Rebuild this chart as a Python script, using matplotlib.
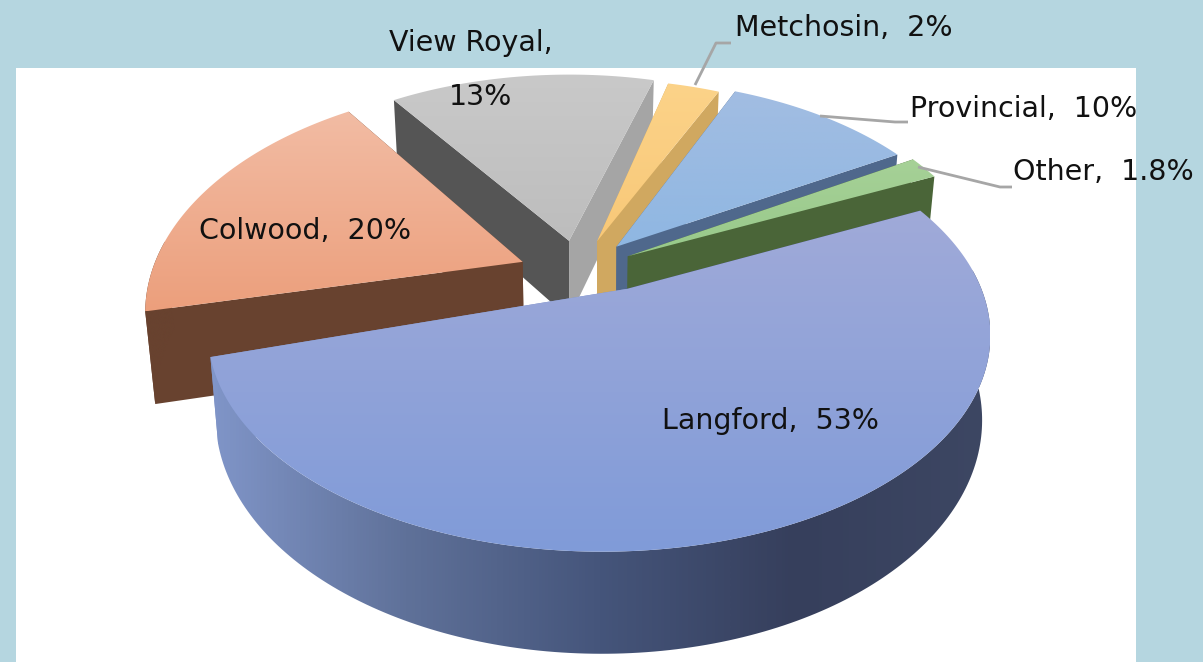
#!/usr/bin/env python
import numpy as np
import matplotlib
matplotlib.use('Agg')
import matplotlib.pyplot as plt
from matplotlib.patches import Polygon, Rectangle
from matplotlib.colors import LinearSegmentedColormap

names = ["Langford", "Colwood", "View Royal", "Metchosin", "Provincial", "Other"]
values = [53, 20, 13, 2, 10, 1.8]
explode = [0.10, 0.17, 0.05, 0.05, 0.08, 0.13]
start_angle = 22.0

# per slice corrections, the original has a camera this simple projection lacks
nudge_start = [2, 2, 6, 4, 2, 1]
nudge_end = [7, 6.5, 2, 1, 2, 1.5]
radius = [1.01, 1, 0.97, 0.94, 0.98, 0.99]
tilt_scale = [0.955, 1.05, 1, 1, 1, 1.07]
h_scale = [1.02, 1.15, 1, 1, 1, 1]
shift_x = [-5, -9, -18, 1, 7, -5]
shift_y = [8, 13, -11, -11, -3, 7]
apex_x = [28, 0, 0, 0, 0, 0]
apex_y = [0, 0, 0, 0, 0, 0]

top_colors = [("#a0aad9", "#809bd8"), ("#f2bca4", "#ec9f7c"), ("#c9c9c9", "#bdbdbd"),
              ("#fcd389", "#f8c878"), ("#a2bde2", "#8fb7e2"), ("#a6d197", "#98c98a")]
cut_first = ["#3c4763", "#68422f", "#555555", "#d0a860", "#4f688c", "#4a6538"]
cut_last = ["#7d92c6", "#68422f", "#a5a5a5", "#d0a860", "#4f688c", "#4a6538"]
rim_colors = [["#8095c8", "#5f7199", "#45557b", "#363f5c", "#3d4763"], ["#68422f"] * 2, ["#999999"] * 2,
              ["#d0a860"] * 2, ["#4f688c"] * 2, ["#4a6538"] * 2]
draw_order = [2, 3, 4, 5, 1, 0]

CX, CY = 590.0, 262.0
R, TILT, K = 372.0, 0.56, 0.20
H, TAPER = 78.0, 0.02

fig = plt.figure(figsize=(12.03, 6.62), dpi=100, facecolor="#b5d6e0")
ax = fig.add_axes([0, 0, 1, 1])
ax.axis("off")


def project(x, y, z=0.0, tilt=1.0):
    d = 1 + K * y
    sx = CX + R * x / d * (1 - TAPER * z)
    sy = CY - R * TILT * tilt * y / d + H * z / d
    return np.column_stack([sx, sy])


def gradient(pts, colors, horizontal=False, z=2):
    x0, y0 = pts.min(axis=0)
    x1, y1 = pts.max(axis=0)
    cmap = LinearSegmentedColormap.from_list("g", colors)
    g = np.linspace(0, 1, 256)
    g = g.reshape(1, -1) if horizontal else g.reshape(-1, 1)
    im = ax.imshow(g, cmap=cmap, extent=[x0, x1, y1, y0], aspect="auto", zorder=z, interpolation="bilinear", origin="upper" if not horizontal else "lower")
    im.set_clip_path(Polygon(pts, closed=True, transform=ax.transData))


ax.add_patch(Rectangle((16, 68), 1120, 600, fc="white", ec="none", zorder=1))

fractions = np.array(values) / sum(values)
ends = start_angle - np.cumsum(fractions) * 360
starts = np.r_[start_angle, ends[:-1]]
z = 2
for i in draw_order:
    a0, a1 = np.radians(starts[i] + nudge_start[i]), np.radians(ends[i] + nudge_end[i])
    mid = (a0 + a1) / 2
    ox, oy = explode[i] * np.cos(mid), explode[i] * np.sin(mid)
    t = np.linspace(a0, a1, 200)
    ax_, ay_ = ox + radius[i] * np.cos(t), oy + radius[i] * np.sin(t)
    off = np.array([shift_x[i], shift_y[i]])
    aoff = off + np.array([apex_x[i], apex_y[i]])
    zb = h_scale[i]
    apex_t = project(ox, oy, 0, tilt_scale[i])[0] + aoff
    apex_b = project(ox, oy, zb, tilt_scale[i])[0] + aoff
    top_arc = project(ax_, ay_, 0, tilt_scale[i]) + off
    bot_arc = project(ax_, ay_, zb, tilt_scale[i]) + off
    # two cut faces
    for arc_t, arc_b, col in ((top_arc[0], bot_arc[0], cut_first[i]), (top_arc[-1], bot_arc[-1], cut_last[i])):
        ax.add_patch(Polygon([apex_t, arc_t, arc_b, apex_b], closed=True, fc=col, ec="none", zorder=z))
        z += 1
    # outer rim
    front = np.sin(t) < 0.1
    if front.any():
        rim = np.vstack([top_arc[front], bot_arc[front][::-1]])
        gradient(rim, rim_colors[i], horizontal=True, z=z)
        z += 1
    # top
    top = np.vstack([apex_t, top_arc])
    gradient(top, top_colors[i], z=z)
    z += 1

txt = dict(fontsize=20.5, color="#111111", zorder=100, family="DejaVu Sans", va="center")
ax.text(389, 43, "View Royal,", **txt)
ax.text(449, 97, "13%", **txt)
ax.text(735, 28, "Metchosin,  2%", **txt)
ax.text(910, 109, "Provincial,  10%", **txt)
ax.text(1013, 172, "Other,  1.8%", **txt)
ax.text(199, 231, "Colwood,  20%", **txt)
ax.text(662, 421, "Langford,  53%", **txt)

line = dict(color="#a6a6a6", lw=2, zorder=99, solid_capstyle="butt")
ax.plot([695, 716, 731], [85, 43, 43], **line)
ax.plot([820, 895, 908], [116, 122, 122], **line)
ax.plot([918, 1000, 1012], [167, 187, 187], **line)

ax.set_xlim(0, 1203)
ax.set_ylim(662, 0)
fig.savefig("out.png", dpi=100, facecolor=fig.get_facecolor())
